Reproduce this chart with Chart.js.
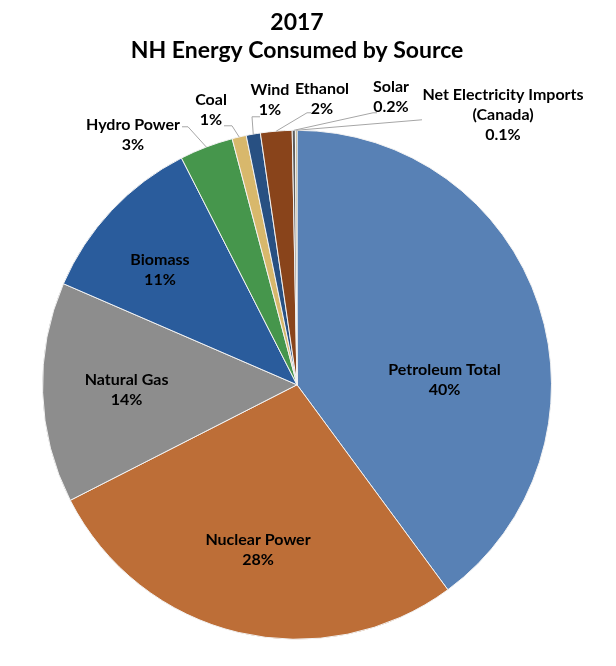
<!DOCTYPE html>
<html>
<head>
<meta charset="utf-8">
<script src="https://cdn.jsdelivr.net/npm/chart.js@4"></script>
<style>
html,body{margin:0;padding:0;background:#fff;}
#wrap{width:616px;height:666px;}
</style>
</head>
<body>
<div id="wrap"><canvas id="c" width="616" height="666"></canvas></div>
<script>
// ---- data ----
const categories = ["Petroleum Total","Nuclear Power","Natural Gas","Biomass","Hydro Power","Coal","Wind","Ethanol","Solar","Net Electricity Imports (Canada)"];
const shares = [39.9, 27.6, 14.0, 11.0, 3.4, 0.9, 0.9, 2.0, 0.2, 0.1];
const pctLabels = ["40%","28%","14%","11%","3%","1%","1%","2%","0.2%","0.1%"];
const titleLines = ["2017","NH Energy Consumed by Source"];

// ---- style ----
const colors = ["#5881B5","#BD6E37","#8D8D8D","#2A5C9C","#46964C","#D8B86C","#285082","#89441B","#5E5E5E","#A89050"];
const FONT = "Lato";
const nameLines = {9: ["Net Electricity Imports","(Canada)"]};
// inside labels: radius fraction, angular shift (deg, clockwise)
const insideCfg = {0:{r:0.58,shift:16.2},1:{r:0.665,shift:0},2:{r:0.67,shift:0},3:{r:0.703,shift:-3.2}};
// outside labels: text anchor and leader elbow/end, offsets from pie centre (px)
const outsideCfg = {
  4:{tx:-164, ty:-260, pts:[[-109,-258],[-115,-258]]},
  5:{tx:-86,  ty:-285, pts:[[-65,-259],[-73,-259]]},
  6:{tx:-27,  ty:-295, pts:[[-45,-268],[-37,-268]]},
  7:{tx:25,   ty:-296, pts:[[10,-272],[14,-272]]},
  8:{tx:94,   ty:-298, pts:[[76,-272],[80,-272]]},
  9:{tx:206,  ty:-290, pts:[[125,-265]]}
};
const LH = 20;

const labelPlugin = {
  id:'sliceLabels',
  afterDatasetsDraw(chart){
    const ctx = chart.ctx;
    const meta = chart.getDatasetMeta(0);
    ctx.save();
    ctx.textAlign='center';
    ctx.textBaseline='middle';
    ctx.fillStyle='#000';
    ctx.font = 'bold 16px ' + FONT;
    meta.data.forEach((arc,i)=>{
      const p = arc.getProps(['x','y','startAngle','endAngle','outerRadius'], true);
      const mid = (p.startAngle + p.endAngle)/2;
      const R = p.outerRadius;
      const lines = (nameLines[i] || [categories[i]]).concat([pctLabels[i]]);
      if (insideCfg[i]) {
        const c = insideCfg[i];
        const a = mid + c.shift*Math.PI/180;
        const x = p.x + Math.cos(a)*R*c.r, y = p.y + Math.sin(a)*R*c.r;
        const y0 = y - (lines.length-1)*LH/2;
        lines.forEach((t,k)=>ctx.fillText(t, x, y0 + k*LH));
      } else if (outsideCfg[i]) {
        const c = outsideCfg[i];
        ctx.strokeStyle='#A6A6A6';
        ctx.lineWidth=1;
        ctx.beginPath();
        ctx.moveTo(p.x + Math.cos(mid)*R, p.y + Math.sin(mid)*R);
        c.pts.forEach(q=>ctx.lineTo(p.x+q[0], p.y+q[1]));
        ctx.stroke();
        lines.forEach((t,k)=>ctx.fillText(t, p.x + c.tx, p.y + c.ty + k*LH));
      }
    });
    ctx.restore();
  }
};

new Chart(document.getElementById('c'), {
  type:'pie',
  data:{
    labels: categories,
    datasets:[{
      data: shares,
      backgroundColor: colors,
      borderColor: '#F2F2F2',
      borderWidth: 1,
      hoverOffset: 0
    }]
  },
  options:{
    responsive:false,
    animation:false,
    layout:{padding:{left:42,right:64,top:0,bottom:26}},
    plugins:{
      legend:{display:false},
      tooltip:{enabled:false},
      title:{
        display:true,
        text: titleLines,
        color:'#000',
        font:{family:FONT,size:23,weight:'bold',lineHeight:1.23},
        padding:{top:8,bottom:65}
      }
    }
  },
  plugins:[labelPlugin]
});
</script>
</body>
</html>
